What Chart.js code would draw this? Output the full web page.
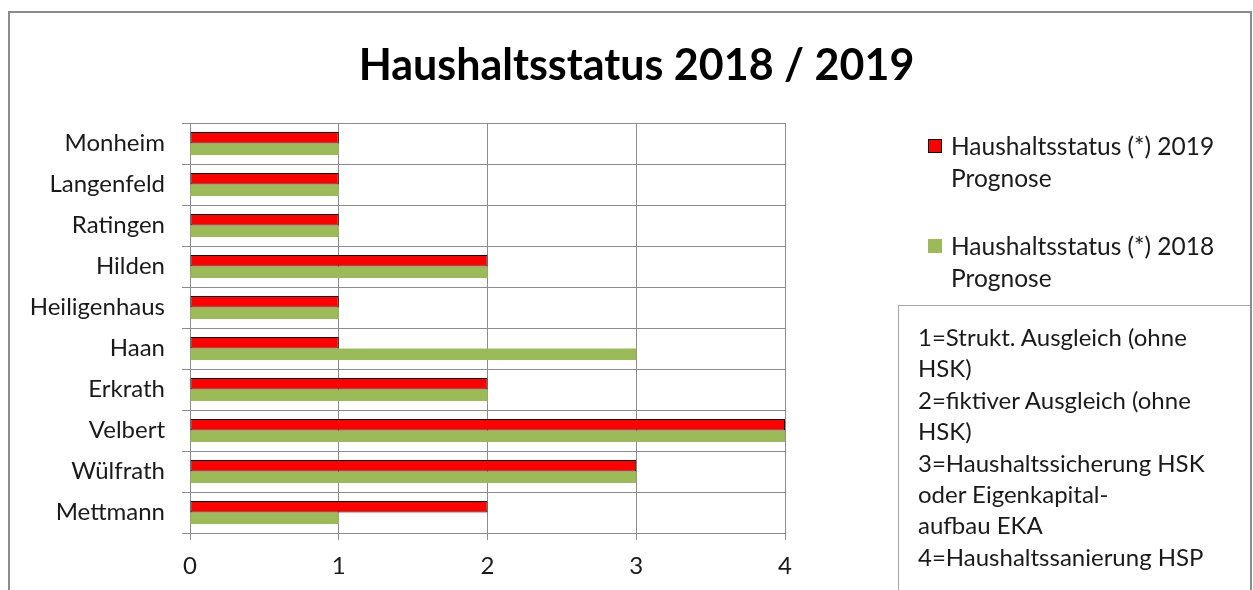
<!DOCTYPE html>
<html>
<head>
<meta charset="utf-8">
<script src="https://cdn.jsdelivr.net/npm/chart.js@4/dist/chart.umd.min.js"></script>
<style>
  body { margin: 0; background: #fff; font-family: Lato, sans-serif; color: #1a1a1a; }
  #frame { position: absolute; left: 8px; top: 11px; width: 1240px; height: 600px; border: 2px solid #8c8c8c; border-bottom: none; }
  #wrap { position: absolute; left: 0; top: 0; width: 1253px; height: 590px; }
  #title { position: absolute; left: 0; width: 1253px; top: 39px; text-align: center; font-weight: bold; font-size: 43px; line-height: 50px; color: #000; padding-left: 20px; box-sizing: border-box; }
  #legend { position: absolute; left: 928px; top: 130px; width: 318px; }
  .item { position: relative; padding-left: 23px; font-size: 24.5px; line-height: 32px; height: 100px; }
  .box { position: absolute; left: 0; top: 9px; width: 14px; height: 14px; box-sizing: border-box; }
  #note { position: absolute; left: 898px; top: 305px; width: 352px; height: 300px; border: 1px solid #a6a6a6; border-right: none; border-bottom: none; box-sizing: border-box; padding: 15px 0 0 19px; font-size: 24px; line-height: 31.4px; }
</style>
</head>
<body>
<div id="frame"></div>
<div id="wrap"><canvas id="myChart" width="1253" height="590"></canvas></div>
<div id="title">Haushaltsstatus 2018 / 2019</div>
<div id="legend"></div>
<div id="note">1=Strukt. Ausgleich (ohne<br>HSK)<br>2=fiktiver Ausgleich (ohne<br>HSK)<br>3=Haushaltssicherung HSK<br>oder Eigenkapital-<br>aufbau EKA<br>4=Haushaltssanierung HSP</div>
<script>
var staedte = ['Monheim', 'Langenfeld', 'Ratingen', 'Hilden', 'Heiligenhaus', 'Haan', 'Erkrath', 'Velbert', 'Wülfrath', 'Mettmann'];
var status2019 = [1, 1, 1, 2, 1, 1, 2, 4, 3, 2];
var status2018 = [1, 1, 1, 2, 1, 3, 2, 4, 3, 1];
var serienNamen = ['Haushaltsstatus (*) 2019 Prognose', 'Haushaltsstatus (*) 2018 Prognose'];
var xTicks = [0, 1, 2, 3, 4];

var ctx = document.getElementById('myChart').getContext('2d');

var myChart = new Chart(ctx, {
    type: 'bar',
    data: {
        labels: staedte,
        datasets: [{
            label: serienNamen[0],
            data: status2019,
            backgroundColor: '#ff0000',
            borderColor: '#000000',
            borderWidth: 1,
            borderSkipped: false
        }, {
            label: serienNamen[1],
            data: status2018,
            backgroundColor: '#9bbb59',
            borderWidth: 0
        }]
    },
    options: {
        indexAxis: 'y',
        responsive: false,
        animation: false,
        categoryPercentage: 0.56,
        barPercentage: 1.0,
        layout: { padding: { top: 123, right: 468, bottom: 0, left: 0 } },
        plugins: {
            legend: { display: false },
            title: { display: false },
            tooltip: { enabled: false }
        },
        scales: {
            x: {
                min: 0,
                max: 4,
                afterBuildTicks: function(scale){
                    scale.ticks = xTicks.map(function(v){ return { value: v }; });
                },
                afterFit: function(scale){ scale.height = 57; },
                grid: { color: '#8c8c8c', tickLength: 7, lineWidth: 1 },
                border: { color: '#8c8c8c' },
                ticks: { padding: 12, color: '#1a1a1a', font: { family: 'Lato', size: 24 } }
            },
            y: {
                afterFit: function(scale){ scale.width = 190; },
                grid: { color: '#8c8c8c', tickLength: 8, offset: true },
                border: { color: '#8c8c8c' },
                ticks: { padding: 17, color: '#1a1a1a', font: { family: 'Lato', size: 24 } }
            }
        }
    }
});

// legend in html so the labels can wrap like in the original
var leg = document.getElementById('legend');
myChart.data.datasets.forEach(function(ds){
    var d = document.createElement('div');
    d.className = 'item';
    var b = document.createElement('span');
    b.className = 'box';
    b.style.background = ds.backgroundColor;
    if (ds.borderWidth) b.style.border = '1px solid ' + ds.borderColor;
    d.appendChild(b);
    d.appendChild(document.createTextNode(ds.label));
    leg.appendChild(d);
});
</script>
</body>
</html>
